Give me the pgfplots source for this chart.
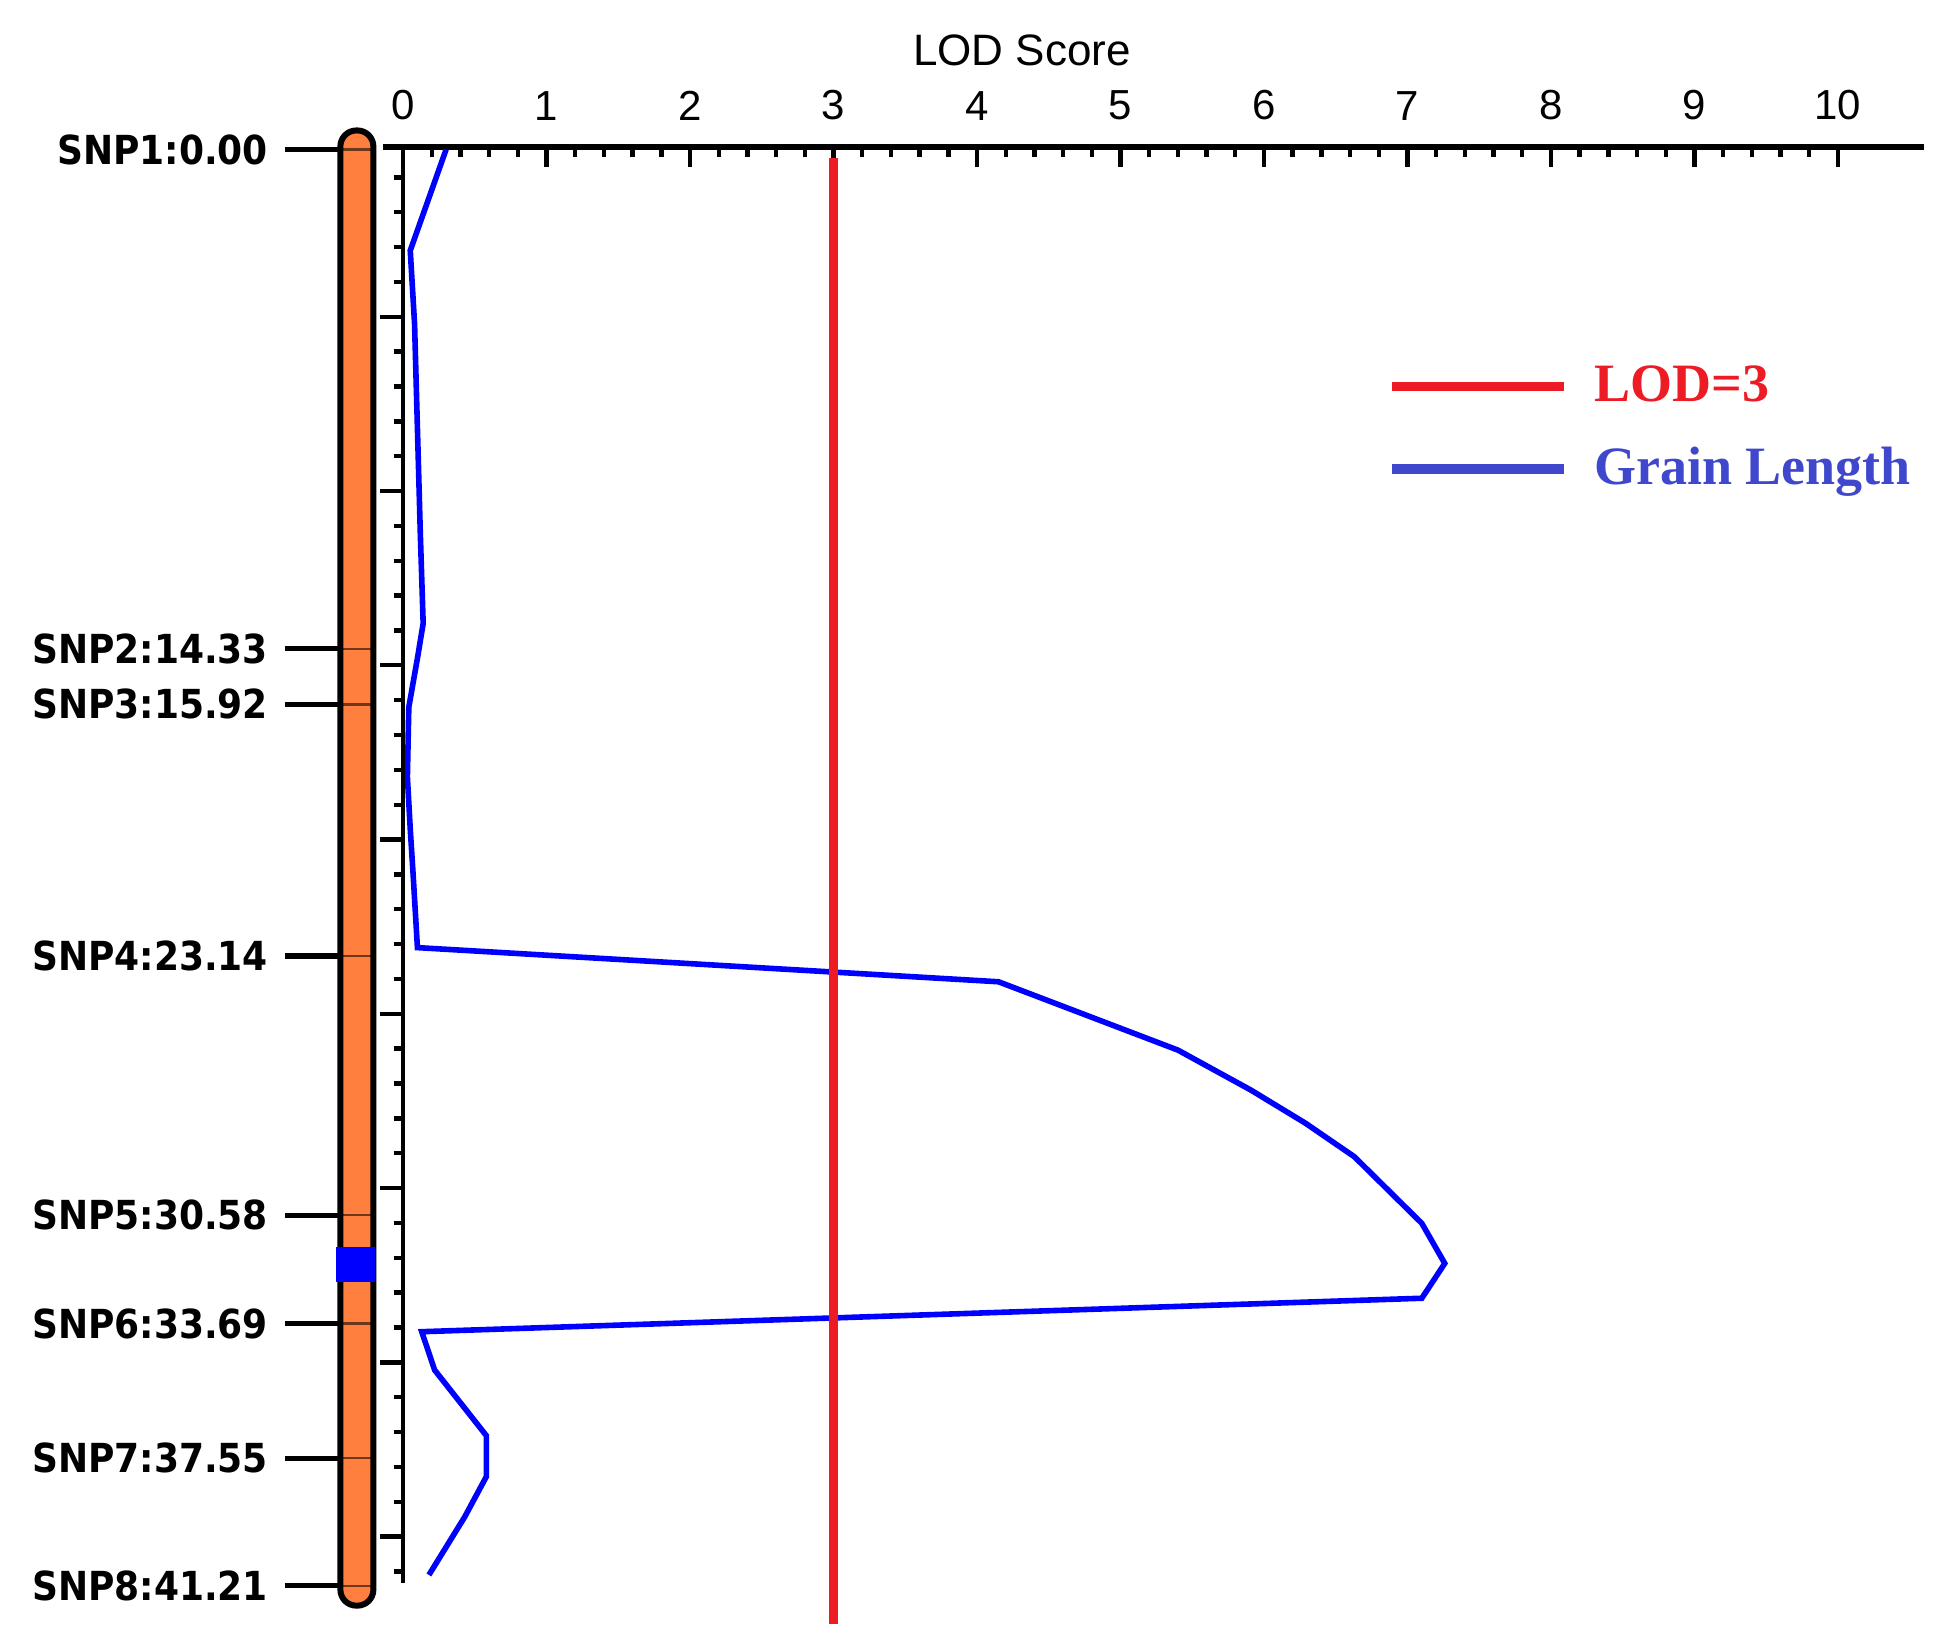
\documentclass[border=0pt]{standalone}
\usepackage{pgfplots}
\pgfplotsset{compat=1.18}
\usepackage{fontspec}
\setmainfont{Liberation Sans}
\newfontfamily\snpfont{DejaVu Sans}[FakeStretch=0.9]
\newfontfamily\legfont{Liberation Serif}
\definecolor{chromo}{RGB}{255,127,63}
\definecolor{lodred}{RGB}{237,28,36}
\definecolor{legblue}{RGB}{63,72,204}
\definecolor{snpin}{RGB}{110,55,25}
\definecolor{curveblue}{RGB}{0,0,255}
\begin{document}
\begin{tikzpicture}
\useasboundingbox (-95.75pt,-16.25pt) rectangle (392.5pt,395.75pt);
% main axis: LOD profile
\begin{axis}[name=main, at={(0pt,0pt)}, anchor=south west,
  scale only axis, width=385.25pt, height=359pt,
  xmin=-0.14, xmax=10.6, ymin=-0.07, ymax=41.13, y dir=reverse,
  clip=false,
  axis x line=top, axis y line=none,
  x axis line style={-, line width=1.3pt, black},
  xtick={0,1,...,10}, minor x tick num=4,
  tick align=inside,
  major tick length=5pt, minor tick length=2.4pt,
  every tick/.style={black, line width=1.1pt},
  /pgf/number format/assume math mode=true,
  xticklabel style={font=\fontsize{10.5}{10.5}\selectfont, inner sep=0pt, yshift=6.5pt},
  xlabel={LOD Score},
  xlabel style={font=\fontsize{11}{11}\selectfont, at={(ticklabel cs:0.4147)}, anchor=south, yshift=2.5pt},
  legend style={draw=none, fill=none, at={(axis cs:6.85,8.0)}, anchor=west,
    inner sep=0pt, column sep=4.5pt, row sep=6pt,
    font=\legfont\bfseries\fontsize{13.5}{13.5}\selectfont},
  legend cell align=left,
  legend image code/.code={\draw[#1] (0pt,0pt) -- (43pt,0pt);},
]
% chromosome bar
\fill[chromo, rounded corners=4pt] (axis cs:-0.437,-0.545) rectangle (axis cs:-0.207,41.78);
\pgfplotsinvokeforeach{0,14.33,15.92,23.14,30.58,33.69,37.55,41.21}{
  \addplot[snpin, line width=0.6pt, forget plot] coordinates {(-0.437,#1) (-0.207,#1)};
}
\draw[black, line width=1.5pt, rounded corners=4pt] (axis cs:-0.437,-0.545) rectangle (axis cs:-0.207,41.78);
\fill[curveblue] (axis cs:-0.467,31.5) rectangle (axis cs:-0.195,32.5);
% LOD curve
\addplot[curveblue, line width=1.4pt, forget plot] coordinates {
(0.30,0) (0.05,2.9) (0.08,5.0) (0.10,8.0) (0.12,11.0) (0.14,13.6) (0.10,14.6)
(0.04,16.0) (0.03,18.0) (0.05,19.5) (0.07,20.8) (0.10,22.9)
(4.15,23.88) (5.40,25.84) (5.91,26.99) (6.29,27.94) (6.63,28.9)
(7.10,30.81) (7.26,31.96) (7.10,32.96) (0.13,33.92) (0.22,35.02)
(0.58,36.9) (0.58,38.08) (0.43,39.23) (0.18,40.9)
};
% threshold
\addplot[lodred, line width=2.3pt, forget plot] coordinates {(3,0.25) (3,42.3)};
\addlegendimage{lodred, line width=2.4pt}
\addlegendentry{\textcolor{lodred}{LOD=3}}
\addlegendimage{legblue, line width=2.4pt}
\addlegendentry{\textcolor{legblue}{Grain Length}}
\end{axis}
% position axis ticks
\begin{axis}[at={(main.south east)}, anchor=south east,
  scale only axis, width=380.2pt, height=359pt,
  xmin=0, xmax=10.6, ymin=-0.07, ymax=41.13, y dir=reverse,
  axis x line=none, axis y line=left,
  y axis line style={-, line width=1.1pt, black},
  ytick={4.8,9.8,14.8,19.8,24.8,29.8,34.8,39.8},
  minor ytick={0.8,1.8,2.8,3.8,5.8,6.8,7.8,8.8,10.8,11.8,12.8,13.8,15.8,16.8,17.8,18.8,20.8,21.8,22.8,23.8,25.8,26.8,27.8,28.8,30.8,31.8,32.8,33.8,35.8,36.8,37.8,38.8,40.8},
  yticklabels={},
  tick align=outside,
  major tick length=5.75pt, minor tick length=2.4pt,
  every tick/.style={black, line width=1.1pt},
]
\addplot[draw=none, forget plot] coordinates {(0,0) (1,1)};
\end{axis}
% SNP marker labels
\begin{axis}[at={(main.north east)}, anchor=north east,
  scale only axis, width=395.9pt, height=362.2pt,
  xmin=-0.437, xmax=10.6, ymin=-0.07, ymax=41.5, y dir=reverse,
  axis x line=none, axis y line=left,
  y axis line style={draw=none},
  ytick={0,14.33,15.92,23.14,30.58,33.69,37.55,41.21},
  yticklabels={SNP1:0.00,SNP2:14.33,SNP3:15.92,SNP4:23.14,SNP5:30.58,SNP6:33.69,SNP7:37.55,SNP8:41.21},
  tick align=outside,
  major tick length=13.9pt,
  every tick/.style={black, line width=1.3pt},
  yticklabel style={font=\snpfont\bfseries\fontsize{10}{10}\selectfont, inner sep=0pt, xshift=-4pt},
]
\addplot[draw=none, forget plot] coordinates {(0,0) (1,1)};
\end{axis}
\end{tikzpicture}
\end{document}
